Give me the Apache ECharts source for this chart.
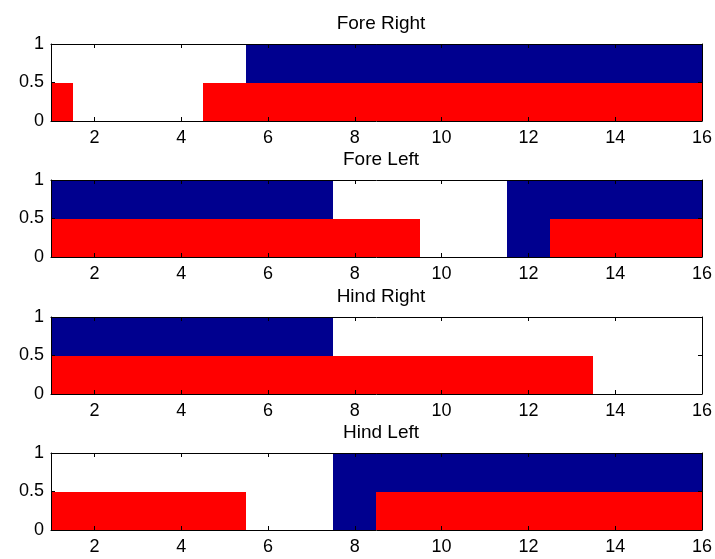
<!DOCTYPE html>
<html><head><meta charset="utf-8">
<script src="https://cdn.jsdelivr.net/npm/echarts@6/dist/echarts.min.js"></script>
<style>html,body{margin:0;padding:0;background:#fff}#c{width:715px;height:559px}</style>
</head><body><div id="c"></div>
<script>
const xValues = [1,2,3,4,5,6,7,8,9,10,11,12,13,14,15,16];
const xTickValues = [2,4,6,8,10,12,14,16];
const yTickValues = [0,0.5,1];
const titles = ['Fore Right','Fore Left','Hind Right','Hind Left'];
const foreRightBlue = [0,0,0,0,0,1,1,1,1,1,1,1,1,1,1,1];
const foreRightRed  = [0.5,0,0,0,0.5,0.5,0.5,0.5,0.5,0.5,0.5,0.5,0.5,0.5,0.5,0.5];
const foreLeftBlue  = [1,1,1,1,1,1,1,0,0,0,0,1,1,1,1,1];
const foreLeftRed   = [0.5,0.5,0.5,0.5,0.5,0.5,0.5,0.5,0.5,0,0,0,0.5,0.5,0.5,0.5];
const hindRightBlue = [1,1,1,1,1,1,1,0,0,0,0,0,0,0,0,0];
const hindRightRed  = [0.5,0.5,0.5,0.5,0.5,0.5,0.5,0.5,0.5,0.5,0.5,0.5,0.5,0,0,0];
const hindLeftBlue  = [0,0,0,0,0,0,0,1,1,1,1,1,1,1,1,1];
const hindLeftRed   = [0.5,0.5,0.5,0.5,0.5,0,0,0,0.5,0.5,0.5,0.5,0.5,0.5,0.5,0.5];
const blueSets = [foreRightBlue, foreLeftBlue, hindRightBlue, hindLeftBlue];
const redSets = [foreRightRed, foreLeftRed, hindRightRed, hindLeftRed];

const BLUE = '#00008f', RED = '#ff0000';
const FONT = 'Liberation Sans';
const gridTops = [44, 180, 317, 453];
const gridH = 77;
const chart = echarts.init(document.getElementById('c'));

const grid = [], xAxis = [], yAxis = [], series = [], title = [];
function renderBar(params, api) {
  const x = api.value(0), y = api.value(1);
  if (!y) return null;
  const p0 = api.coord([x - 0.5, y]);
  const p1 = api.coord([x + 0.5, 0]);
  const cs = params.coordSys;
  const x0 = Math.round(Math.max(p0[0], cs.x));
  const x1 = Math.round(Math.min(p1[0], cs.x + cs.width));
  const y0 = Math.round(p0[1]);
  const y1 = Math.round(p1[1]);
  if (x1 <= x0) return null;
  return {type: 'rect', shape: {x: x0, y: y0, width: x1 - x0, height: y1 - y0},
    style: {fill: api.visual('color')}};
}
for (let i = 0; i < 4; i++) {
  grid.push({left: 51, right: 11, top: gridTops[i], height: gridH, containLabel: false});
  title.push({text: titles[i], left: 376, top: gridTops[i] - 35, textAlign: 'center',
    textStyle: {fontFamily: FONT, fontSize: 19, fontWeight: 'normal', color: '#000'}});
  const axLine = {show: true, onZero: false, lineStyle: {color: '#000', width: 1}};
  xAxis.push({gridIndex: i, type: 'value', min: 1, max: 16, position: 'bottom', z: 10,
    axisLine: axLine, splitLine: {show: false},
    axisTick: {show: true, inside: true, length: 4, customValues: xTickValues, lineStyle: {color: '#000'}},
    axisLabel: {show: true, customValues: xTickValues, margin: 8, fontFamily: FONT, fontSize: 18, color: '#000'}});
  xAxis.push({gridIndex: i, type: 'value', min: 1, max: 16, position: 'top', z: 10,
    axisLine: axLine, splitLine: {show: false},
    axisTick: {show: true, inside: true, length: 4, customValues: xTickValues, lineStyle: {color: '#000'}},
    axisLabel: {show: false}});
  yAxis.push({gridIndex: i, type: 'value', min: 0, max: 1, position: 'left', z: 10,
    axisLine: axLine, splitLine: {show: false},
    axisTick: {show: true, inside: true, length: 4, customValues: yTickValues, lineStyle: {color: '#000'}},
    axisLabel: {show: true, customValues: yTickValues, margin: 7, fontFamily: FONT, fontSize: 18, color: '#000',
      formatter: v => String(v)}});
  yAxis.push({gridIndex: i, type: 'value', min: 0, max: 1, position: 'right', z: 10,
    axisLine: axLine, splitLine: {show: false},
    axisTick: {show: true, inside: true, length: 4, customValues: yTickValues, lineStyle: {color: '#000'}},
    axisLabel: {show: false}});
  series.push({type: 'custom', xAxisIndex: 2 * i, yAxisIndex: 2 * i, itemStyle: {color: BLUE},
    renderItem: renderBar, encode: {x: 0, y: 1}, z: 2,
    data: xValues.map((x, k) => [x, blueSets[i][k]])});
  series.push({type: 'custom', xAxisIndex: 2 * i, yAxisIndex: 2 * i, itemStyle: {color: RED},
    renderItem: renderBar, encode: {x: 0, y: 1}, z: 3,
    data: xValues.map((x, k) => [x, redSets[i][k]])});
}
chart.setOption({animation: false, backgroundColor: '#fff', title, grid, xAxis, yAxis, series});
</script></body></html>
